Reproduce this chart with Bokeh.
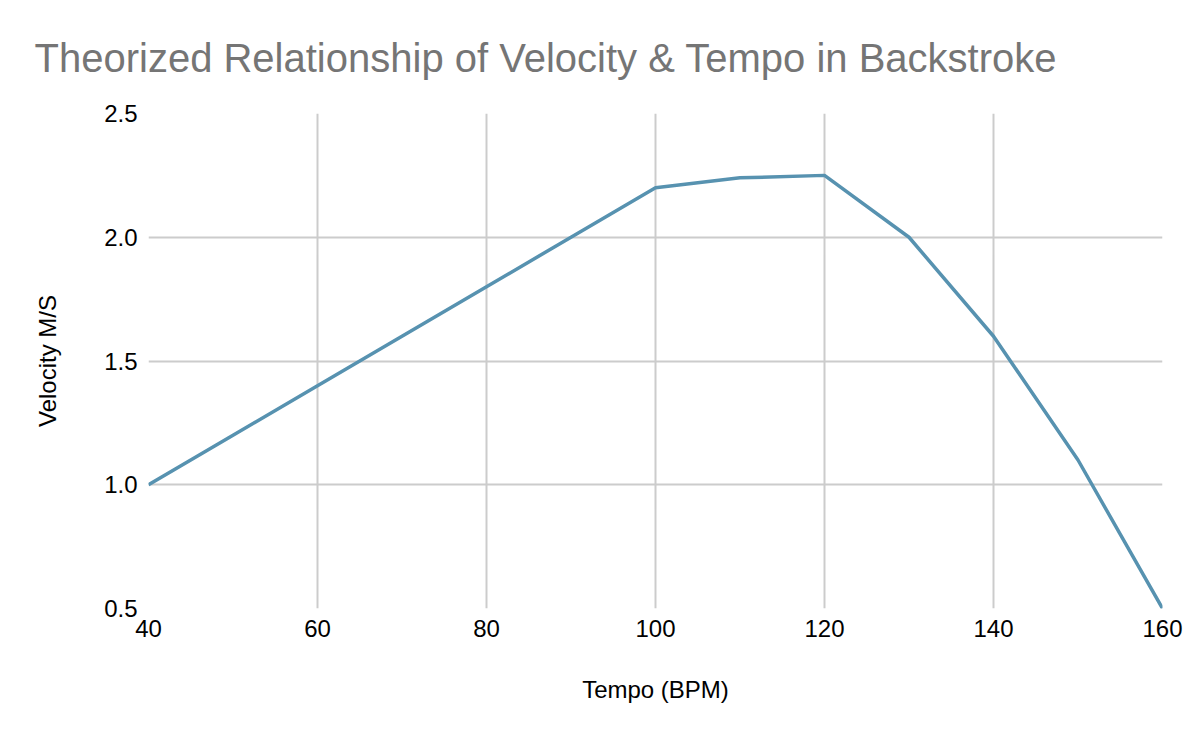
from bokeh.plotting import figure
from bokeh.models import FixedTicker, PrintfTickFormatter, Range1d
from bokeh.embed import file_html
from bokeh.resources import INLINE

tempo = [40, 50, 60, 70, 80, 90, 100, 110, 120, 130, 140, 150, 160]
velocity = [1.0, 1.2, 1.4, 1.6, 1.8, 2.0, 2.2, 2.24, 2.25, 2.0, 1.6, 1.1, 0.5]
x_ticks = [40, 60, 80, 100, 120, 140, 160]
y_ticks = [0.5, 1.0, 1.5, 2.0, 2.5]

FONT = "Liberation Sans"

p = figure(frame_width=1014, frame_height=495, output_backend="svg", toolbar_location=None,
           x_range=Range1d(40, 160), y_range=Range1d(0.5, 2.5),
           min_border_left=148, min_border_right=30, min_border_top=113, min_border_bottom=20,
           title="Theorized Relationship of Velocity & Tempo in Backstroke")
p.outline_line_color = None
p.background_fill_color = "white"
p.border_fill_color = "white"

p.title.text_font = FONT
p.title.text_font_size = "40px"
p.title.text_font_style = "normal"
p.title.text_color = "#757575"
p.title.align = "left"
p.title.offset = -114
p.title.standoff = 67

p.line(tempo, velocity, line_color="#5792b0", line_width=3.5)

for ax in (p.xaxis[0], p.yaxis[0]):
    ax.axis_line_color = None
    ax.major_tick_line_color = None
    ax.minor_tick_line_color = None
    ax.major_label_text_font = FONT
    ax.major_label_text_font_size = "24px"
    ax.major_label_text_color = "#000000"
    ax.axis_label_text_font = FONT
    ax.axis_label_text_font_size = "24px"
    ax.axis_label_text_font_style = "normal"
    ax.axis_label_text_color = "#000000"

p.xaxis.ticker = FixedTicker(ticks=x_ticks)
p.yaxis.ticker = FixedTicker(ticks=y_ticks)
p.yaxis.formatter = PrintfTickFormatter(format="%.1f")
p.xaxis.axis_label = "Tempo (BPM)"
p.yaxis.axis_label = "Velocity M/S"
p.xaxis.major_label_standoff = 5
p.yaxis.major_label_standoff = 5
p.xaxis.axis_label_standoff = 36
p.yaxis.axis_label_standoff = 40

p.xgrid.ticker = FixedTicker(ticks=x_ticks)
p.ygrid.ticker = FixedTicker(ticks=y_ticks)
p.grid.grid_line_color = "#cccccc"
p.grid.grid_line_width = 2

open("out.html", "w").write(file_html(p, INLINE))
